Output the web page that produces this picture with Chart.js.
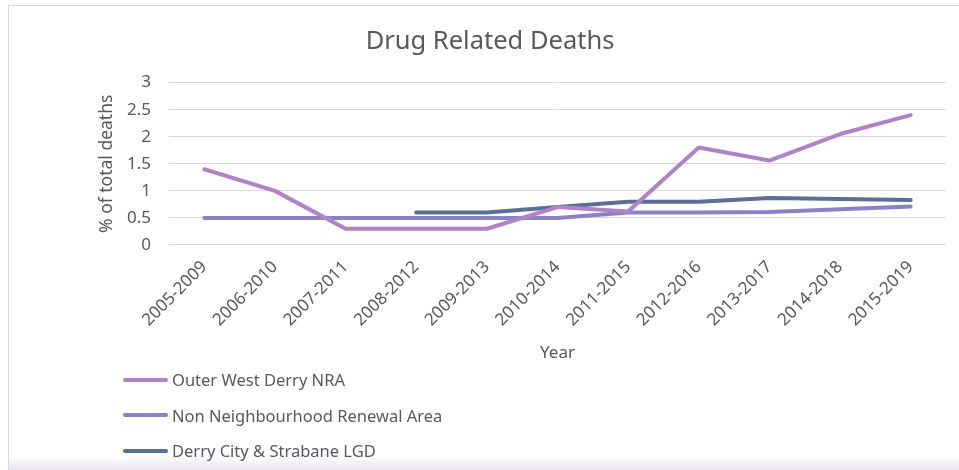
<!DOCTYPE html>
<html>
<head>
<meta charset="utf-8">
<script src="https://cdn.jsdelivr.net/npm/chart.js@4.4.0/dist/chart.umd.min.js"></script>
<style>
  body { margin: 0; background: #ffffff; }
  #wrap { position: relative; width: 959px; height: 470px; overflow: hidden; font-family: "Noto Sans", sans-serif; }
  #frame { position: absolute; left: 8px; top: 5px; width: 960px; height: 470px; border: 1px solid #d9d9d9; box-sizing: border-box; }
  #band { position: absolute; left: 9px; top: 456px; width: 950px; height: 14px; background: linear-gradient(#ffffff, #e9e1f3); }
  #chart { position: absolute; left: 0; top: 0; }
  #legend { position: absolute; left: 123px; top: 362px; }
  .item { height: 35.5px; display: flex; align-items: center; color: #595959; font-size: 16.5px; }
  .swatch { width: 45px; height: 4px; border-radius: 2px; margin-right: 4px; }
</style>
</head>
<body>
<div id="wrap">
  <div id="frame"></div>
  <div id="band"></div>
  <canvas id="chart" width="959" height="470"></canvas>
  <div id="legend"></div>
</div>
<script>
// Periodos de 5 años
const years = ['2005-2009', '2006-2010', '2007-2011', '2008-2012', '2009-2013', '2010-2014',
               '2011-2015', '2012-2016', '2013-2017', '2014-2018', '2015-2019'];

// Series (% of total deaths)
const outerWest = [1.4, 1.0, 0.3, 0.3, 0.3, 0.7, 0.62, 1.8, 1.56, 2.05, 2.4];
const nonNRA    = [0.5, 0.5, 0.5, 0.5, 0.5, 0.5, 0.6, 0.6, 0.61, 0.66, 0.71];
const derry     = [null, null, null, 0.6, 0.6, 0.7, 0.8, 0.8, 0.87, 0.85, 0.83];

const yTicks = [0, 0.5, 1, 1.5, 2, 2.5, 3];

const textColor = '#595959';
const gridColor = '#d9d9d9';
const fontFamily = '"Noto Sans", sans-serif';

function lineSet(label, data, color) {
    return {
        label: label,
        data: data,
        borderColor: color,
        backgroundColor: color,
        borderWidth: 4,
        borderCapStyle: 'round',
        borderJoinStyle: 'round',
        pointRadius: 0,
        tension: 0,
        fill: false,
        spanGaps: false
    };
}

const ctx = document.getElementById('chart').getContext('2d');
const chart = new Chart(ctx, {
    type: 'line',
    data: {
        labels: years,
        datasets: [
            lineSet('Outer West Derry NRA', outerWest, '#b083c8'),
            lineSet('Non Neighbourhood Renewal Area', nonNRA, '#8a82c8'),
            lineSet('Derry City & Strabane LGD', derry, '#5a6f96')
        ]
    },
    options: {
        responsive: false,
        animation: false,
        // izquierda pequeña para que el título quede centrado como en el original
        layout: { padding: { left: 34, right: 13, top: 0, bottom: 105 } },
        plugins: {
            legend: { display: false },
            tooltip: { enabled: false },
            title: {
                display: true,
                text: 'Drug Related Deaths',
                color: textColor,
                font: { family: fontFamily, size: 25.5, weight: 'normal' },
                padding: { top: 26, bottom: 26 }
            }
        },
        scales: {
            x: {
                offset: true,
                grid: { display: false, drawTicks: false },
                border: { display: false },
                ticks: {
                    color: textColor,
                    font: { family: fontFamily, size: 17 },
                    maxRotation: 45,
                    minRotation: 45,
                    autoSkip: false,
                    padding: 12
                },
                title: {
                    display: true,
                    text: 'Year',
                    color: textColor,
                    font: { family: fontFamily, size: 17 },
                    padding: { top: 4, bottom: 2 }
                },
                afterFit: function (scale) { scale.height = 120; }
            },
            y: {
                min: 0,
                max: 3,
                afterBuildTicks: function (scale) {
                    scale.ticks = yTicks.map(v => ({ value: v }));
                },
                grid: { color: gridColor, lineWidth: 1, drawTicks: false },
                border: { display: false },
                ticks: {
                    color: textColor,
                    font: { family: fontFamily, size: 17 },
                    padding: 18,
                    callback: v => String(v)
                },
                title: {
                    display: true,
                    text: '% of total deaths',
                    color: textColor,
                    font: { family: fontFamily, size: 17.5 },
                    padding: { top: 63, bottom: 2 }
                },
                afterFit: function (scale) { scale.width = 135; }
            }
        }
    }
});

// Leyenda vertical en HTML, construida desde los datasets
const legendBox = document.getElementById('legend');
chart.data.datasets.forEach(ds => {
    const item = document.createElement('div');
    item.className = 'item';
    const sw = document.createElement('div');
    sw.className = 'swatch';
    sw.style.background = ds.borderColor;
    const txt = document.createElement('span');
    txt.textContent = ds.label;
    item.appendChild(sw);
    item.appendChild(txt);
    legendBox.appendChild(item);
});
</script>
</body>
</html>
